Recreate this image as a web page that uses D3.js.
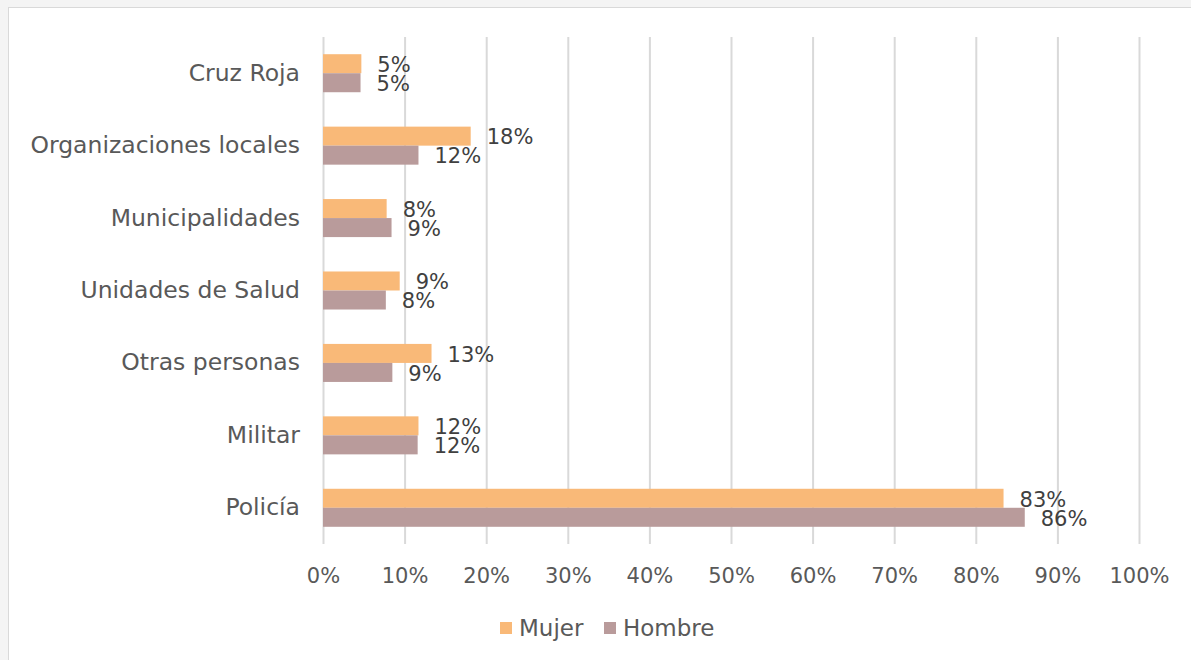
<!DOCTYPE html>
<html>
<head>
<meta charset="utf-8">
<script src="https://cdn.jsdelivr.net/npm/d3@7"></script>
<style>
  body { margin: 0; background: #f4f4f4; overflow: hidden; }
  text { font-family: "DejaVu Sans", sans-serif; }
</style>
</head>
<body>
<script>
var categories = ["Cruz Roja", "Organizaciones locales", "Municipalidades", "Unidades de Salud", "Otras personas", "Militar", "Policía"];
var series = ["Mujer", "Hombre"];
var mujer = [0.047, 0.181, 0.078, 0.094, 0.133, 0.117, 0.834];
var hombre = [0.046, 0.117, 0.084, 0.077, 0.085, 0.116, 0.860];
var mujerLabels = ["5%", "18%", "8%", "9%", "13%", "12%", "83%"];
var hombreLabels = ["5%", "12%", "9%", "8%", "9%", "12%", "86%"];
var ticks = [0, 0.1, 0.2, 0.3, 0.4, 0.5, 0.6, 0.7, 0.8, 0.9, 1];
var colors = ["#f9b978", "#b99b9b"];

var CHART = {
  init: function() {
    var w = 1191;
    var h = 660;

    var svg = d3.select("body")
      .append("svg")
      .attr("width", w)
      .attr("height", h);

    svg.append("rect")
      .attr("x", 8.5)
      .attr("y", 7.5)
      .attr("width", w + 10)
      .attr("height", h + 10)
      .attr("fill", "#ffffff")
      .attr("stroke", "#d9d9d9");

    var x = d3.scaleLinear().domain([0, 1]).range([323, 1139]);
    var y = d3.scaleBand().domain(categories).range([37, 544])
      .paddingInner(0.475).paddingOuter(0.2375);
    var ySub = d3.scaleBand().domain(series).range([0, y.bandwidth()]);

    var xAxis = d3.axisBottom(x)
      .tickValues(ticks)
      .tickSize(-(544 - 37))
      .tickFormat(d3.format(".0%"));

    var gx = svg.append("g")
      .attr("transform", "translate(0,544)")
      .call(xAxis);
    gx.select(".domain").remove();
    gx.selectAll(".tick line")
      .attr("stroke", "#d9d9d9")
      .attr("stroke-width", 2);
    gx.selectAll(".tick text")
      .attr("y", 24)
      .attr("fill", "#595959")
      .attr("font-size", "21px")
      .attr("font-family", "DejaVu Sans, sans-serif");

    var yAxis = d3.axisLeft(y).tickSize(0).tickPadding(23);
    var gy = svg.append("g")
      .attr("transform", "translate(323,0)")
      .call(yAxis);
    gy.select(".domain").remove();
    gy.selectAll(".tick text")
      .attr("fill", "#595959")
      .attr("font-size", "23.5px")
      .attr("font-family", "DejaVu Sans, sans-serif");

    var data = [mujer, hombre];
    var labels = [mujerLabels, hombreLabels];

    series.forEach(function(s, si) {
      svg.append("g").selectAll("rect")
        .data(data[si])
        .enter()
        .append("rect")
        .attr("x", x(0))
        .attr("y", function(d, i) {
          return y(categories[i]) + ySub(s);
        })
        .attr("width", function(d) {
          return x(d) - x(0);
        })
        .attr("height", ySub.bandwidth())
        .attr("fill", colors[si]);

      svg.append("g").selectAll("text")
        .data(data[si])
        .enter()
        .append("text")
        .text(function(d, i) {
          return labels[si][i];
        })
        .attr("x", function(d) {
          return x(d) + 16;
        })
        .attr("y", function(d, i) {
          return y(categories[i]) + ySub(s) + ySub.bandwidth() / 2 + 1;
        })
        .attr("dy", "0.35em")
        .attr("font-size", "21px")
        .attr("fill", "#404040");
    });

    // legend
    var legX = [500, 604];
    var leg = svg.append("g");
    series.forEach(function(s, si) {
      leg.append("rect")
        .attr("x", legX[si])
        .attr("y", 622)
        .attr("width", 12)
        .attr("height", 12)
        .attr("fill", colors[si]);
      leg.append("text")
        .attr("x", legX[si] + 19)
        .attr("y", 628)
        .attr("dy", "0.35em")
        .attr("font-size", "23px")
        .attr("fill", "#595959")
        .text(s);
    });
  }
};

CHART.init();
</script>
</body>
</html>
